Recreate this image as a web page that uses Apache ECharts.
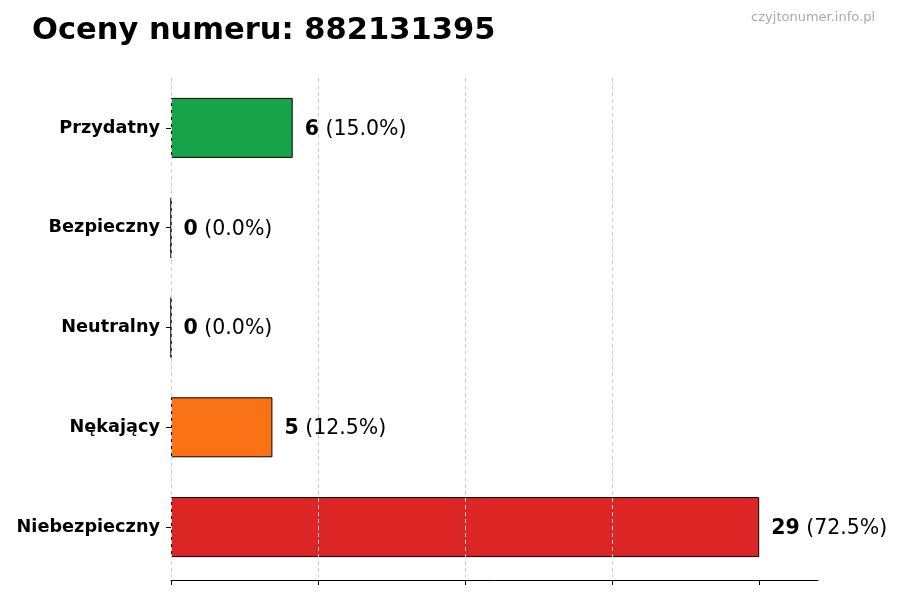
<!DOCTYPE html>
<html>
<head>
<meta charset="utf-8">
<script src="https://cdn.jsdelivr.net/npm/echarts@6/dist/echarts.min.js"></script>
<style>
  html, body { margin: 0; padding: 0; background: #ffffff; }
  #chart { width: 900px; height: 600px; }
</style>
</head>
<body>
<div id="chart"></div>
<script>
const categories = ["Przydatny", "Bezpieczny", "Neutralny", "Nękający", "Niebezpieczny"];
const counts = [6, 0, 0, 5, 29];
const barColors = ["#16a34a", "#9ca3af", "#3b82f6", "#f97316", "#dc2626"];
const tickValues = [0, 7.25, 14.5, 21.75, 29];

const FONT = "DejaVu Sans";
const total = counts.reduce((a, b) => a + b, 0);

const chart = echarts.init(document.getElementById("chart"), null, { renderer: "canvas" });

chart.setOption({
  backgroundColor: "#ffffff",
  animation: false,
  title: [
    {
      text: "Oceny numeru: 882131395",
      left: 27,
      top: 11,
      textStyle: { fontFamily: FONT, fontSize: 30.5, fontWeight: "bold", color: "#000000" },
    },
    {
      text: "czyjtonumer.info.pl",
      right: 20,
      top: 6,
      textStyle: { fontFamily: FONT, fontSize: 13, fontWeight: "normal", color: "#aaaaaa" },
    },
  ],
  grid: { left: 171, right: 82, top: 78, bottom: 23, containLabel: false },
  xAxis: {
    type: "value",
    min: 0,
    max: 31.9,
    interval: 7.25,
    offset: 3,
    z: 5,
    axisLine: { show: true, lineStyle: { color: "#000000", width: 1 } },
    axisTick: { show: true, length: 5, lineStyle: { color: "#000000" }, customValues: tickValues },
    axisLabel: { show: false },
    splitLine: {
      show: true,
      showMaxLine: false,
      lineStyle: { color: "#cccccc", type: [4, 3], width: 1 },
    },
  },
  yAxis: {
    type: "category",
    data: categories,
    inverse: true,
    axisLine: { show: false },
    axisTick: { show: true, alignWithLabel: true, length: 5, lineStyle: { color: "#000000" } },
    axisLabel: {
      fontFamily: FONT,
      fontSize: 17.7,
      fontWeight: "bold",
      color: "#000000",
      margin: 11,
      padding: [4, 0, 0, 0],
    },
    splitLine: { show: false },
  },
  series: [
    {
      type: "bar",
      barWidth: 60,
      data: counts.map((v, i) => ({
        value: v,
        itemStyle: { color: barColors[i], borderColor: "#000000", borderWidth: 1 },
      })),
      label: {
        show: true,
        position: "right",
        distance: 12,
        padding: [3, 0, 0, 0],
        formatter: (p) => `{b|${p.value}}{n| (${((p.value / total) * 100).toFixed(1)}%)}`,
        rich: {
          b: { fontFamily: FONT, fontSize: 20.5, fontWeight: "bold", color: "#000000" },
          n: { fontFamily: FONT, fontSize: 20.5, fontWeight: "normal", color: "#000000" },
        },
      },
    },
  ],
});
</script>
</body>
</html>
